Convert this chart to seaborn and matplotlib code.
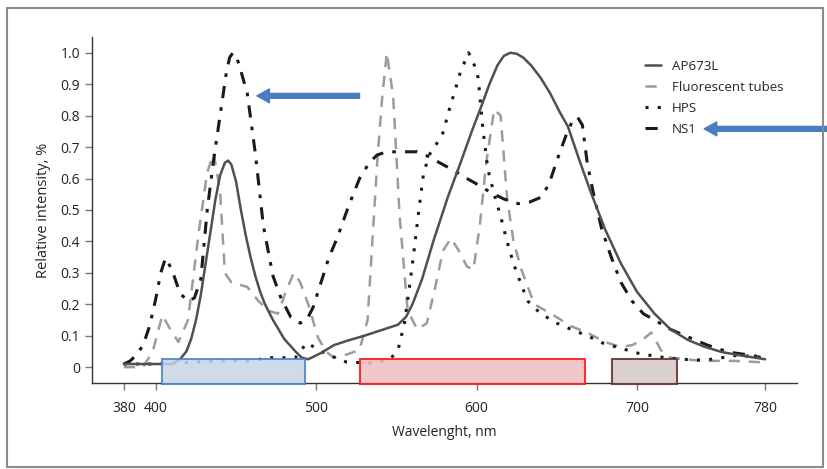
import numpy as np
import pandas as pd
import matplotlib
matplotlib.use("Agg")
import matplotlib.pyplot as plt
import seaborn as sns
from matplotlib.patches import Rectangle

# values
ap_wl = [380, 395, 410, 415, 419, 422, 425, 428, 431, 434, 437, 440, 443, 445, 447, 450, 453, 456, 459, 462,
         465, 468, 473, 480, 487, 491, 495, 503, 511, 520, 530, 542, 551, 556, 560, 566, 573, 582, 590,
         597, 603, 608, 613, 617, 621, 625, 629, 634, 640, 646, 652, 657, 664, 671, 680, 690, 700, 711,
         721, 732, 742, 753, 765, 780]
ap_val = [0.01, 0.01, 0.01, 0.025, 0.05, 0.09, 0.15, 0.23, 0.33, 0.43, 0.53, 0.61, 0.65, 0.657, 0.645, 0.59, 0.5, 0.42, 0.35, 0.29,
          0.24, 0.2, 0.15, 0.09, 0.05, 0.03, 0.025, 0.045, 0.07, 0.085, 0.1, 0.12, 0.135, 0.16, 0.2, 0.28, 0.4, 0.54, 0.65,
          0.75, 0.83, 0.9, 0.96, 0.99, 1.0, 0.997, 0.985, 0.96, 0.92, 0.87, 0.81, 0.765, 0.66, 0.56, 0.44, 0.33, 0.24, 0.17,
          0.12, 0.086, 0.065, 0.048, 0.037, 0.025]

ft_wl = [380, 392, 398, 404, 409, 414, 420, 427, 432, 436, 440, 443, 447, 457, 464, 470, 476, 481, 486,
         490, 495, 501, 506, 511, 519, 527, 532, 535, 538, 541, 544, 548, 552, 557, 563, 569, 574, 579,
         584, 589, 594, 598, 602, 606, 611, 615, 619, 623, 628, 636, 648, 659, 669, 680, 690, 697,
         703, 709, 715, 721, 740, 760, 780]
ft_val = [0.0, 0.0, 0.05, 0.165, 0.12, 0.08, 0.15, 0.44, 0.62, 0.68, 0.56, 0.3, 0.27, 0.255, 0.21, 0.18, 0.17, 0.24, 0.3,
          0.27, 0.2, 0.095, 0.05, 0.03, 0.04, 0.055, 0.15, 0.4, 0.65, 0.85, 1.0, 0.86, 0.48, 0.18, 0.12, 0.14, 0.25, 0.37,
          0.41, 0.37, 0.32, 0.31, 0.45, 0.65, 0.82, 0.8, 0.54, 0.4, 0.31, 0.2, 0.165, 0.13, 0.11, 0.08, 0.064, 0.07,
          0.085, 0.11, 0.054, 0.03, 0.02, 0.02, 0.015]

hps_wl = [380, 400, 420, 440, 460, 470, 480, 487, 494, 500, 507, 519, 536, 546, 551, 555, 558, 561, 564,
          567, 571, 575, 579, 583, 586, 590, 595, 598, 601, 604, 607, 611, 615, 619, 623, 628, 632, 640,
          650, 659, 669, 679, 690, 701, 711, 721, 732, 742, 753, 763, 780]
hps_val = [0.01, 0.01, 0.015, 0.02, 0.02, 0.03, 0.03, 0.03, 0.077, 0.06, 0.04, 0.016, 0.013, 0.025, 0.054, 0.14, 0.25, 0.37, 0.5,
           0.62, 0.68, 0.71, 0.745, 0.82, 0.87, 0.94, 1.0, 0.97, 0.92, 0.755, 0.63, 0.55, 0.48, 0.4, 0.33, 0.26, 0.21, 0.17,
           0.14, 0.12, 0.1, 0.076, 0.06, 0.044, 0.035, 0.028, 0.024, 0.022, 0.03, 0.038, 0.03]

ns_wl = [380, 384, 388, 392, 396, 400, 403, 406, 410, 415, 420, 424, 428, 432, 436, 440, 444, 446, 448, 450, 452,
         457, 462, 467, 473, 478, 484, 490, 494, 498, 503, 508, 513, 520, 527, 533, 538, 544, 551, 557,
         563, 570, 577, 586, 594, 601, 609, 617, 626, 633, 640, 645, 651, 656, 660, 663, 666, 669, 673, 678,
         684, 690, 697, 704, 711, 721, 732, 744, 757, 768, 780]
ns_val = [0.01, 0.02, 0.04, 0.07, 0.13, 0.22, 0.3, 0.347, 0.31, 0.235, 0.21, 0.22, 0.28, 0.5, 0.66, 0.8, 0.94, 0.985, 1.0, 0.99, 0.96,
          0.87, 0.68, 0.45, 0.29, 0.22, 0.16, 0.14, 0.15, 0.19, 0.27, 0.35, 0.41, 0.51, 0.6, 0.65, 0.675, 0.685, 0.685, 0.685,
          0.685, 0.67, 0.65, 0.625, 0.6, 0.58, 0.555, 0.535, 0.52, 0.525, 0.54, 0.58, 0.67, 0.74, 0.785, 0.795, 0.77, 0.65, 0.55, 0.44,
          0.35, 0.27, 0.21, 0.17, 0.15, 0.12, 0.096, 0.07, 0.048, 0.04, 0.03]

series_names = ["AP673L", "Fluorescent tubes", "HPS", "NS1"]
x_ticks = [380, 400, 500, 600, 700, 780]
y_ticks = [0, 0.1, 0.2, 0.3, 0.4, 0.5, 0.6, 0.7, 0.8, 0.9, 1.0]
y_tick_labels = ["0", "0.1", "0.2", "0.3", "0.4", "0.5", "0.6", "0.7", "0.8", "0.9", "1.0"]

# highlighted bands under the spectra (start, end in nm)
band_start = [404, 527.5, 684.5]
band_end = [493, 667.5, 725]
band_face = ["#c9d4e6", "#eebfc2", "#d6c9c9"]
band_edge = ["#4a7fcc", "#ff1010", "#5e2a2a"]

sns.set_style("white")
plt.rcParams["font.family"] = ["Open Sans", "DejaVu Sans"]

fig = plt.figure(figsize=(8.27, 4.69), dpi=100)
ax = fig.add_axes([0.111, 0.183, 0.853, 0.738])

styles = {
    "AP673L": dict(color="#505050", linestyle="-", lw=1.8),
    "Fluorescent tubes": dict(color="#9c9c9c", linestyle=(0, (4.5, 3.5)), lw=1.8),
    "HPS": dict(color="#1a1a1a", linestyle=(0, (1, 3)), lw=2.2),
    "NS1": dict(color="#1a1a1a", linestyle=(0, (4, 3, 1.2, 3)), lw=2.2),
}
data = {
    "AP673L": (ap_wl, ap_val),
    "Fluorescent tubes": (ft_wl, ft_val),
    "HPS": (hps_wl, hps_val),
    "NS1": (ns_wl, ns_val),
}
for name in ["Fluorescent tubes", "HPS", "NS1", "AP673L"]:
    df = pd.DataFrame({"wl": data[name][0], "val": data[name][1]})
    sns.lineplot(data=df, x="wl", y="val", ax=ax, label=name, sort=False,
                 estimator=None, **styles[name])

for s, e, fc, ec in zip(band_start, band_end, band_face, band_edge):
    ax.add_patch(Rectangle((s, -0.054), e - s, 0.079, facecolor=fc, edgecolor=ec,
                           lw=1.5, alpha=0.85, zorder=4, clip_on=False))

ax.set_xlim(360, 800)
ax.set_ylim(-0.051, 1.05)
ax.set_xticks(x_ticks)
ax.set_yticks(y_ticks)
ax.set_yticklabels(y_tick_labels)
ax.tick_params(axis="both", direction="out", length=5, width=1, color="#777777",
               labelsize=10, labelcolor="#222222", left=True, bottom=True)
ax.tick_params(axis="x", pad=8)
ax.set_xlabel("Wavelenght, nm", fontsize=10, color="#222222", labelpad=6)
ax.set_ylabel("Relative intensity, %", fontsize=10.5, color="#222222", labelpad=7)
sns.despine(ax=ax)
for sp in ["left", "bottom"]:
    ax.spines[sp].set_color("#333333")
    ax.spines[sp].set_linewidth(1)

handles, labels = ax.get_legend_handles_labels()
order = [labels.index(n) for n in series_names]
ax.legend([handles[i] for i in order], series_names, loc="upper left",
          bbox_to_anchor=(0.784, 0.935), frameon=False, fontsize=9.6,
          handlelength=1.2, handletextpad=0.8, labelspacing=0.6,
          borderpad=0, borderaxespad=0)

arrow_kw = dict(facecolor="#4a7cc0", edgecolor="#4a7cc0", width=3.5, headwidth=10,
                headlength=9, shrink=0)
ax.annotate("", xy=(463, 0.863), xytext=(527, 0.863), arrowprops=arrow_kw,
            annotation_clip=False)
ax.annotate("", xy=(742, 0.758), xytext=(820, 0.758), arrowprops=arrow_kw,
            annotation_clip=False)

fig.patches.append(Rectangle((0.0085, 0.004), 0.9865, 0.979, transform=fig.transFigure,
                             fill=False, edgecolor="#8a8a8a", lw=1.5))

fig.savefig("out.png", dpi=100)
